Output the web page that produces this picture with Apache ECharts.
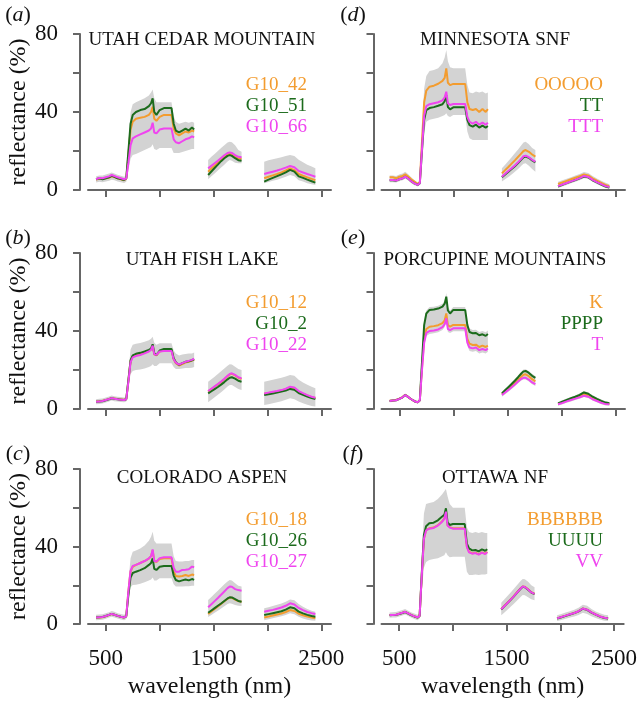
<!DOCTYPE html>
<html><head><meta charset="utf-8">
<script src="https://cdn.jsdelivr.net/npm/echarts@6/dist/echarts.min.js"></script>
<style>html,body{margin:0;padding:0;background:#fff}#c{width:640px;height:703px}</style>
</head><body><div id="c"></div>
<script>
// ---- wavelength samples (nm), three spectral segments separated by water-absorption gaps
const wlSeg1 = [410,440,470,500,530,555,580,610,640,670,690,710,730,750,780,820,860,900,920,935,950,970,1000,1040,1080,1110,1130,1150,1180,1210,1240,1270,1300,1320];
const wlSeg2 = [1450,1480,1510,1540,1570,1600,1630,1650,1670,1700,1730,1760];
const wlSeg3 = [1970,2010,2050,2090,2130,2170,2210,2250,2290,2330,2370,2410,2445];
const gapX = [1385, 1870];

// ---- axis ticks
const xTicks = [500,1000,1500,2000,2500];
const xTickLabels = [500,1500,2500];
const yTicks = [0,20,40,60,80];
const yTickLabels = [0,40,80];

// ---- panel titles / legend names
const titles = ['UTAH CEDAR MOUNTAIN','UTAH FISH LAKE','COLORADO ASPEN','MINNESOTA SNF','PORCUPINE MOUNTAINS','OTTAWA NF'];
const panelLetters = ['a','b','c','d','e','f'];
const names_a = ['G10_42','G10_51','G10_66'];
const names_b = ['G10_12','G10_2','G10_22'];
const names_c = ['G10_18','G10_26','G10_27'];
const names_d = ['OOOOO','TT','TTT'];
const names_e = ['K','PPPP','T'];
const names_f = ['BBBBBB','UUUU','VV'];

// ---- (a) UTAH CEDAR MOUNTAIN
const a_G10_42 = [[5.3,5.8,5.6,6,6.3,7,6.6,6,5.5,5,5.8,18,31,35,36.5,37,37.5,38.5,40,42.7,36.5,35.5,37.5,38.5,38.5,38.5,31.5,29,28,29,30,29.5,30.5,30],
  [9.4,11,12.5,14,15.5,17,18.2,18.6,18.2,17,16.2,16],
  [6,6.8,7.5,8.2,9,10,11.1,10.2,8.2,7.3,6.5,5.7,5]];
const a_G10_51 = [[5.5,6,5.5,6,6.5,7.3,6.8,6,5.6,5.1,6,20,34,38.5,40,41,41.5,43,44.5,47,40,38.5,41,42,42,42,34,30.5,29.5,30.5,31.5,30.5,32,31],
  [7.7,9.5,11.3,13,14.8,16.3,17.5,17.9,17.5,16.3,15.3,15],
  [4.3,5.3,6.2,7.1,8,9,10.3,9.4,7,6.2,5.3,4.5,3.8]];
const a_G10_66 = [[5.5,6.2,6,6.5,7,7.7,7.2,6.5,6,5.5,6,14,23,26.5,27.5,28.5,29.5,30.5,31.5,34.5,29.5,29,31,31.5,31.5,31.5,26,24.5,24,25,26,26.5,27.5,27],
  [11.1,12.4,13.7,15,16.4,17.8,19,19.3,19,17.9,17,16.8],
  [8.2,8.8,9.4,10,10.7,11.5,12.3,11.7,9.8,9,8.2,7.5,6.8]];
const a_lower = [[3.8,4.2,4,4.3,4.7,5.3,5,4.4,4,3.6,4.2,10,16,18,18.5,19.5,20.5,21.5,22,23.5,21,20.5,21.5,21.5,21.5,21.5,19,19,19,19.5,20,20.5,21,21],
  [5.5,7,8.5,10,11.5,13,14.6,15.4,15,14,13.7,13.7],
  [3.4,4.1,4.7,5.3,6,6.8,7.7,7,5,4.3,3.5,3,2.6]];
const a_upper = [[7,7.5,7.5,8,8.5,9,8.5,7.8,7.3,6.8,7.5,24,40,44,45,46,47,48.5,50,51.5,47,45,45,45,45,45,38,35,34,34.5,35,34.5,35,34.5],
  [15.4,17,18.5,20,21.5,23,24.3,24.8,24.5,23,20.5,19.6],
  [14.5,15.3,15.8,16.3,16.8,17.4,17.9,17.5,15.5,14.2,13,12,11.1]];

// ---- (b) UTAH FISH LAKE
const b_G10_12 = [[3.8,4,4.2,4.7,5.2,5.7,5.4,5.1,4.9,4.7,5.1,14.5,24.5,27,27.8,28.3,29,29.8,30.5,32.7,28,27.5,29.5,30,30.2,30.2,25.5,23.5,22.3,23,23.8,24.2,24.8,25.3],
  [9,10.2,11.4,12.6,13.9,15.3,16.8,17.7,18,17.2,16,15.4],
  [7.8,8.2,8.6,9,9.5,10.2,11,10.6,8.8,7.8,6.9,6.1,5.6]];
const b_G10_2 = [[3.7,3.8,4,4.5,5,5.5,5.2,5,4.8,4.6,5,15,25,27.5,28.3,28.8,29.5,30.3,31,33.2,28.5,27.7,30,30.8,30.8,30.8,26,24,22.6,23.5,24.2,24.5,25,25.6],
  [8,9.1,10.2,11.3,12.5,13.8,15.2,16,16.3,15.6,14.5,14],
  [7.2,7.6,8,8.4,8.9,9.5,10.3,9.9,8.2,7.3,6.4,5.6,5.1]];
const b_G10_22 = [[3.7,3.9,4.1,4.6,5.1,5.6,5.3,5,4.8,4.6,5,14,24,26.5,27.2,27.7,28.5,29.5,30.3,32.5,28,27.8,29.5,29.8,29.8,29.8,25.5,23.8,22.8,23.5,24.2,24.7,25.2,25.8],
  [9.2,10.4,11.6,12.8,14.1,15.5,17,18,18.3,17.5,16.3,15.7],
  [8,8.4,8.8,9.2,9.7,10.4,11.4,11,9.2,8.1,7.1,6.3,5.8]];
const b_lower = [[2.5,2.6,2.8,3.3,3.8,4.3,4,3.8,3.6,3.4,3.8,11,18,19.5,20,20.3,20.8,21.5,22,23,22,22,23.4,23.4,23.4,23.4,21.5,20.5,20.5,20.8,21,21,21.2,21.5],
  [3.4,4.7,6,7.3,8.6,10,11.5,12.3,12.3,11.3,10.2,9.7],
  [2,2.5,3,3.5,4,4.7,5.5,5,3.8,3,2.2,1.6,1.3]];
const b_upper = [[5,5.2,5.4,5.9,6.4,6.9,6.6,6.3,6.1,5.9,6.3,19,30.5,33,33.5,33.8,34.5,35.3,36,37,34,33,33.7,33.7,33.7,33.7,30,28.5,27.5,28,28.2,28.5,28.5,29],
  [14,15.3,16.6,18,19.4,20.8,22.2,22.9,22.8,21.7,20.5,20],
  [14,14.5,15,15.5,16,16.7,17.4,17,15,13.6,12.4,11.4,10.6]];

// ---- (c) COLORADO ASPEN
const c_G10_18 = [[3.3,3.4,3.5,4,4.6,5.2,4.8,4.2,3.7,3.4,4,17,27,29.5,30.5,31.5,32.5,33.8,35,38,32.5,32,33.5,33.9,33.9,33.9,27,24.8,24.5,24.8,25.3,24.8,25.5,25.3],
  [5.2,6.5,7.8,9.1,10.4,11.7,13,13.6,13.5,12.6,11.8,11.5],
  [3.4,3.9,4.4,4.9,5.4,6.2,7.2,6.7,5.3,4.5,3.8,3.3,3]];
const c_G10_26 = [[3.4,3.5,3.6,4.1,4.7,5.2,4.8,4.2,3.7,3.4,4,15,24,26.3,27,27.8,28.8,30.5,31.5,33.9,28.5,27.9,29.5,29.9,29.9,29.9,25,22.7,22,22.5,23,22.5,23.2,22.8],
  [5.8,7,8.2,9.4,10.6,11.9,13.2,13.8,13.7,12.8,11.9,11.5],
  [4.6,5.1,5.6,6.1,6.6,7.4,8.6,8.1,6.4,5.5,4.7,4.1,3.8]];
const c_G10_27 = [[3.4,3.5,3.6,4.1,4.7,5.2,4.8,4.2,3.7,3.4,4,17,27.5,30,30.5,31.5,32.5,33.9,35,38.5,32.5,32.2,34,34.4,34.4,34.4,29,27,27,27.9,28,28.3,29.6,29.3],
  [8.6,10.2,11.8,13.4,15.1,16.8,18.5,19.3,19.2,18,17.5,17.2],
  [6.3,6.8,7.3,7.9,8.5,9.4,10.7,10.1,8.3,7.2,6.2,5.6,5.2]];
const c_lower = [[2,2.1,2.2,2.7,3.3,3.8,3.4,2.8,2.3,2,2.6,12,19,20.1,20.3,20.8,21.5,22.5,23,24,22.5,22.5,23.6,23.6,23.6,23.6,20.5,19.3,19.3,19.3,19.5,19.5,19.8,19.8],
  [3.6,4.7,5.8,6.9,8,9.2,10.3,10.7,10.5,9.8,9.4,9.3],
  [2,2.5,3,3.5,4,4.7,5.5,5,3.7,2.9,2.2,1.8,1.7]];
const c_upper = [[4.8,4.9,5,5.5,6.1,6.7,6.3,5.6,5.1,4.8,5.5,22,34,37.3,38,39,40.5,43,45,47.6,43,41.5,41.6,41.6,41.6,41.6,35,32.5,32.2,32.2,32.5,32.5,33,33],
  [12.4,14,15.6,17.2,18.8,20.5,22,22.7,22.5,21,19.8,19.3],
  [8.1,8.7,9.3,9.9,10.6,11.5,12.7,12.2,10.3,8.9,7.8,6.9,6.3]];

// ---- (d) MINNESOTA SNF
const d_OOOOO = [[6.5,6.5,6,6.8,7.2,8,7,5.5,4.3,3.1,4,25,45,51,53,53.5,54.5,56,57.5,62.4,55,53.8,54.4,54.4,54.4,54.4,45,41.5,41,41.5,40,41.5,40,41.5],
  [8.5,10.2,11.8,13.5,15.2,17,18.8,20,20.5,19.6,18.2,17.1],
  [3.1,3.9,4.7,5.5,6.3,7.1,8,7.5,6,4.8,3.7,2.6,2]];
const d_TT = [[5,5,4.8,5.5,6,6.8,6,4.5,3.4,2.6,3.5,20,36,41,42,42.5,43.2,44,45.5,48.7,42.5,41.4,42.4,42.4,42.4,42.4,36,33.3,32.5,33.5,32,33,32,32.8],
  [6.5,8,9.4,10.8,12.2,13.8,15.6,16.8,17.2,16.5,15.2,14.2],
  [1.8,2.7,3.5,4.3,5.1,6,6.9,6.5,5,3.9,2.8,1.8,1.3]];
const d_TTT = [[5.1,5.1,4.8,5.5,6,6.8,6,4.5,3.4,2.6,3.5,21,38,43,44,44.5,45,46,47.5,50.4,44.5,43.6,44.1,44.1,44.1,44.1,37.5,35,34,35,33.5,34.5,33.5,34.5],
  [6.8,8.3,9.7,11.1,12.6,14.2,16,17.3,17.6,16.8,15.5,14.5],
  [2,2.8,3.6,4.4,5.2,6.1,7.2,6.7,5.2,4,3,2,1.5]];
const d_lower = [[4,4,3.8,4.5,5,5.8,5,3.5,2.5,1.8,2.6,16,30,35,36,36.5,37,38,38.5,39.3,38,37.5,38.5,38.5,38.5,38.5,30,26.5,25.6,25.6,25.6,25.6,25.6,25.6],
  [4.3,5.5,6.7,8,9.4,10.8,12.4,13.5,13.7,12.5,10.8,9.4],
  [1,1.8,2.6,3.4,4.2,5,6,5.6,4.2,3,2,1,0.6]];
const d_upper = [[7.5,7.5,7.2,8,8.5,9.3,8.2,6.5,5,3.9,4.8,30,52,58.5,61,61.5,62.5,65,68,71.8,66,63,62.4,62.4,62.4,62.4,54,50,49.6,50.5,50,50.5,49.5,50],
  [11.1,13,14.9,16.8,18.8,20.8,23,24.4,24.8,23.5,21.5,20.5],
  [4.2,5,5.8,6.6,7.4,8.2,9.2,8.7,7.2,5.9,4.8,3.7,3]];

// ---- (e) PORCUPINE MOUNTAINS
const e_K = [[4.2,4.4,4.6,5.3,6.1,7.3,6.3,5,4,3.4,4.5,21,36,41,42.2,42.5,43,44,45.5,49,43,42.2,43.1,43.1,43.1,43.1,36,33.5,32.8,33,31.8,32.5,31.8,32.5],
  [7.7,9,10.4,11.8,13.3,14.9,16.6,17.6,17.8,16.8,15.3,14.2],
  [2.6,3.4,4.2,5,5.7,6.5,7.6,7,5.6,4.6,3.6,2.8,2.6]];
const e_PPPP = [[4.1,4.3,4.5,5.2,6,7.2,6.2,5,4,3.4,4.5,24,43,49,50.8,51,51.5,52.5,54,57.6,50.5,49,50.8,50.8,50.8,50.8,43,39.5,38.8,39,37.8,38.3,37.5,38.5],
  [8,9.6,11.2,12.8,14.5,16.3,18.2,19.3,19.5,18.5,17,16],
  [2.9,3.8,4.7,5.5,6.3,7.2,8.5,7.8,6.3,5.2,4.2,3.3,2.9]];
const e_T = [[4.1,4.3,4.5,5.2,6,7.2,6.2,5,4,3.4,4.5,20,34,39,40,40.3,40.8,42,43.5,46.5,41,40.5,41.4,41.4,41.4,41.4,34,31.5,31.1,31.5,30.2,30.8,30.2,31],
  [7.2,8.5,9.8,11.2,12.6,14.1,15.5,16,16,15,13.6,12.7],
  [2.4,3.1,3.9,4.6,5.3,6,6.8,6.3,5,4.1,3.2,2.5,2.4]];
const e_lower = [[3.4,3.6,3.8,4.5,5.3,6.5,5.5,4.3,3.3,2.7,3.8,18.5,32.5,37.5,38.5,38.8,39.3,40.5,42,44.5,39.5,39,39.9,39.9,39.9,39.9,32.5,29.8,29.3,29.7,28.5,29,28.5,29.3],
  [6.3,7.6,8.9,10.3,11.7,13.2,14.6,15.1,15.1,14.1,12.7,11.8],
  [1.7,2.4,3.2,3.9,4.6,5.3,6.1,5.6,4.3,3.4,2.5,1.8,1.7]];
const e_upper = [[4.8,5,5.2,5.9,6.8,8,7,5.7,4.7,4.1,5.2,25.5,44.5,50.5,52.3,52.5,53,54,55.5,59.5,52.5,50.5,52.3,52.3,52.3,52.3,44.8,41.3,40.5,40.7,39.5,40,39.3,40.3],
  [8.9,10.5,12.1,13.7,15.4,17.2,19.1,20.2,20.4,19.4,17.9,16.9],
  [3.6,4.5,5.4,6.2,7,7.9,9.2,8.5,7,5.9,4.9,4,3.6]];

// ---- (f) OTTAWA NF
const f_BBBBBB = [[4.6,4.7,4.8,5.3,5.8,6.3,5.6,4.7,4,3.4,4.2,25,44,48.5,49.4,49.8,51,53,54.5,58,51,50,49.4,49.4,49.4,49.4,40,37.3,36.5,36.8,36,37,36.3,37.3],
  [7.7,9.4,11.1,12.8,14.6,16.5,18.4,19.4,19.2,17.9,16.4,15.6],
  [2.9,3.6,4.3,5,5.7,6.6,8,7.4,6,4.9,3.9,3.2,2.9]];
const f_UUUU = [[4.5,4.6,4.7,5.2,5.7,6.2,5.5,4.6,3.9,3.3,4.1,26,46,50.5,52,52.3,53.5,55.5,56.3,59.7,52.5,51.1,51.6,51.6,51.6,51.6,41.5,39,38,38.2,37.5,38.5,37.8,38.6],
  [7.5,9.2,10.9,12.6,14.4,16.3,18.2,19.2,19,17.7,16.2,15.4],
  [2.8,3.5,4.2,4.9,5.6,6.5,7.9,7.3,5.9,4.8,3.8,3.1,2.8]];
const f_VV = [[4.6,4.7,4.8,5.3,5.8,6.3,5.6,4.7,4,3.4,4.2,25,44,48.3,49.2,49.6,50.8,52.8,54.3,58,50.8,49.8,49.2,49.2,49.2,49.2,39.8,37,36.3,36.6,35.8,36.8,36.1,37],
  [7.6,9.3,11,12.7,14.5,16.4,18.3,19.3,19.1,17.8,16.3,15.5],
  [2.9,3.6,4.3,5,5.7,6.6,8,7.4,6,4.9,3.9,3.2,2.9]];
const f_lower = [[3.2,3.3,3.4,3.9,4.4,4.9,4.2,3.3,2.6,2,2.8,17,29,32,33,33.5,34,35,35.5,37,35.5,34.5,34.7,34.7,34.7,34.7,27,25.3,25.3,25.5,25.3,25.5,25.5,26],
  [4.5,6,7.5,9,10.6,12.3,14,15,14.8,13.8,12.8,12.3],
  [1.5,2.1,2.7,3.3,3.9,4.6,5.8,5.2,4,3.1,2.3,1.7,1.5]];
const f_upper = [[6,6.1,6.2,6.7,7.2,7.7,7,6.1,5.4,4.8,5.6,35,57,62,62.5,63,64.5,67,68.5,69.7,66,62,60,60,60,60,50,47.5,47,47.5,47,47.5,47,47],
  [11,12.8,14.6,16.4,18.3,20.3,22.2,23.2,23.1,21.8,20,19],
  [4.5,5.2,5.9,6.6,7.4,8.4,10,9.4,7.7,6.5,5.5,4.8,4.5]];

// ---------------------------------------------------------------------------
const FONT = '"Liberation Serif","Times New Roman",Times,serif';
const COLORS = ['#f39c2f', '#1c6b1c', '#ef45ef'];
const BAND = '#d3d3d3';
const AXIS = '#666666';

const panels = [
  {names: names_a, series: [a_G10_42, a_G10_51, a_G10_66], lo: a_lower, hi: a_upper},
  {names: names_b, series: [b_G10_12, b_G10_2, b_G10_22], lo: b_lower, hi: b_upper},
  {names: names_c, series: [c_G10_18, c_G10_26, c_G10_27], lo: c_lower, hi: c_upper},
  {names: names_d, series: [d_OOOOO, d_TT, d_TTT], lo: d_lower, hi: d_upper},
  {names: names_e, series: [e_K, e_PPPP, e_T], lo: e_lower, hi: e_upper},
  {names: names_f, series: [f_BBBBBB, f_UUUU, f_VV], lo: f_lower, hi: f_upper}
];

// layout (pixels)
const colLeft = [88, 381.5], colWidth = [243, 243.5];
const rowTop = [34, 253, 469], rowHeight = [156, 156, 155];
const colCenter = [202, 495];
const titleY = [40, 260, 478];
const letterX = [18, 353], letterY = [15, 238, 454];
const legendRight = [328, 32], legendTop = [75, 293, 510];

const wlSegs = [wlSeg1, wlSeg2, wlSeg3];
function toPairs(vals) {
  const out = [];
  for (let s = 0; s < 3; s++) {
    for (let i = 0; i < wlSegs[s].length; i++) out.push([wlSegs[s][i], vals[s][i]]);
    if (s < 2) out.push([gapX[s], '-']);
  }
  return out;
}

const grids = [], xAxes = [], yAxes = [], series = [], legends = [], graphics = [];
panels.forEach((p, k) => {
  const col = k < 3 ? 0 : 1, row = k % 3;
  grids.push({left: colLeft[col], width: colWidth[col], top: rowTop[row], height: rowHeight[row]});
  xAxes.push({
    type: 'value', gridIndex: k, min: 335, max: 2590, offset: 6,
    axisLine: {show: true, lineStyle: {color: AXIS, width: 2}},
    axisTick: {show: true, customValues: xTicks, length: 7, lineStyle: {color: AXIS, width: 2}},
    axisLabel: {show: row === 2, customValues: xTickLabels, formatter: v => String(v),
      fontFamily: FONT, fontSize: 23, color: '#111', margin: 17},
    splitLine: {show: false},
    name: row === 2 ? 'wavelength (nm)' : '', nameLocation: 'middle', nameGap: 45,
    nameTextStyle: {fontFamily: FONT, fontSize: 24, color: '#111'}
  });
  yAxes.push({
    type: 'value', gridIndex: k, min: 0, max: 80, interval: 20, offset: 8,
    axisLine: {show: true, lineStyle: {color: AXIS, width: 2}},
    axisTick: {show: true, customValues: yTicks, length: 7, lineStyle: {color: AXIS, width: 2}},
    axisLabel: {show: col === 0, customValues: yTickLabels, formatter: v => String(v),
      fontFamily: FONT, fontSize: 23, color: '#111', margin: 22},
    splitLine: {show: false},
    name: col === 0 ? 'reflectance (%)' : '', nameLocation: 'middle', nameGap: 43,
    nameTextStyle: {fontFamily: FONT, fontSize: 24, color: '#111'}
  });
  // grey +/- band: one polygon per spectral segment, placed through the axes' scales
  series.push({
    type: 'custom', name: 'band_' + k, xAxisIndex: k, yAxisIndex: k, silent: true, z: 1,
    dimensions: ['wl', 'seg'],
    encode: {x: 0, y: 1},
    data: [[wlSeg1[0], 0], [wlSeg2[0], 1], [wlSeg3[0], 2]],
    renderItem: function (params, api) {
      const s = api.value(1);
      const w = wlSegs[s], pts = [];
      for (let i = 0; i < w.length; i++) pts.push(api.coord([w[i], p.hi[s][i]]));
      for (let i = w.length - 1; i >= 0; i--) pts.push(api.coord([w[i], p.lo[s][i]]));
      return {type: 'polygon', shape: {points: pts}, style: {fill: BAND}};
    }
  });
  p.series.forEach((vals, j) => {
    series.push({
      type: 'line', name: p.names[j], xAxisIndex: k, yAxisIndex: k,
      data: toPairs(vals), showSymbol: false, color: COLORS[j],
      lineStyle: {width: 2, color: COLORS[j]}, z: 3
    });
  });
  legends.push({
    orient: 'vertical', right: legendRight[col], top: legendTop[row], padding: 0,
    align: 'right', icon: 'none', itemWidth: 0, itemHeight: 0, itemGap: 0, selectedMode: false,
    data: p.names.map((n, j) => ({name: n, textStyle: {color: COLORS[j], fontFamily: FONT, fontSize: 19}})),
    textStyle: {fontFamily: FONT, fontSize: 19, lineHeight: 21}
  });
  graphics.push({
    type: 'text', x: colCenter[col], y: titleY[row], z: 10,
    style: {text: titles[k], fontFamily: FONT, fontSize: 19, fill: '#111', align: 'center', verticalAlign: 'middle'}
  });
  graphics.push({
    type: 'text', x: letterX[col], y: letterY[row], z: 10,
    style: {text: '({i|' + panelLetters[k] + '})', fontFamily: FONT, fontSize: 22, fill: '#111', align: 'center', verticalAlign: 'middle',
      rich: {i: {fontFamily: FONT, fontSize: 22, fontStyle: 'italic', fill: '#111'}}}
  });
});

const chart = echarts.init(document.getElementById('c'), null, {renderer: 'canvas'});
chart.setOption({
  animation: false, backgroundColor: '#fff',
  grid: grids, xAxis: xAxes, yAxis: yAxes, series: series, legend: legends, graphic: graphics
});
</script></body></html>
